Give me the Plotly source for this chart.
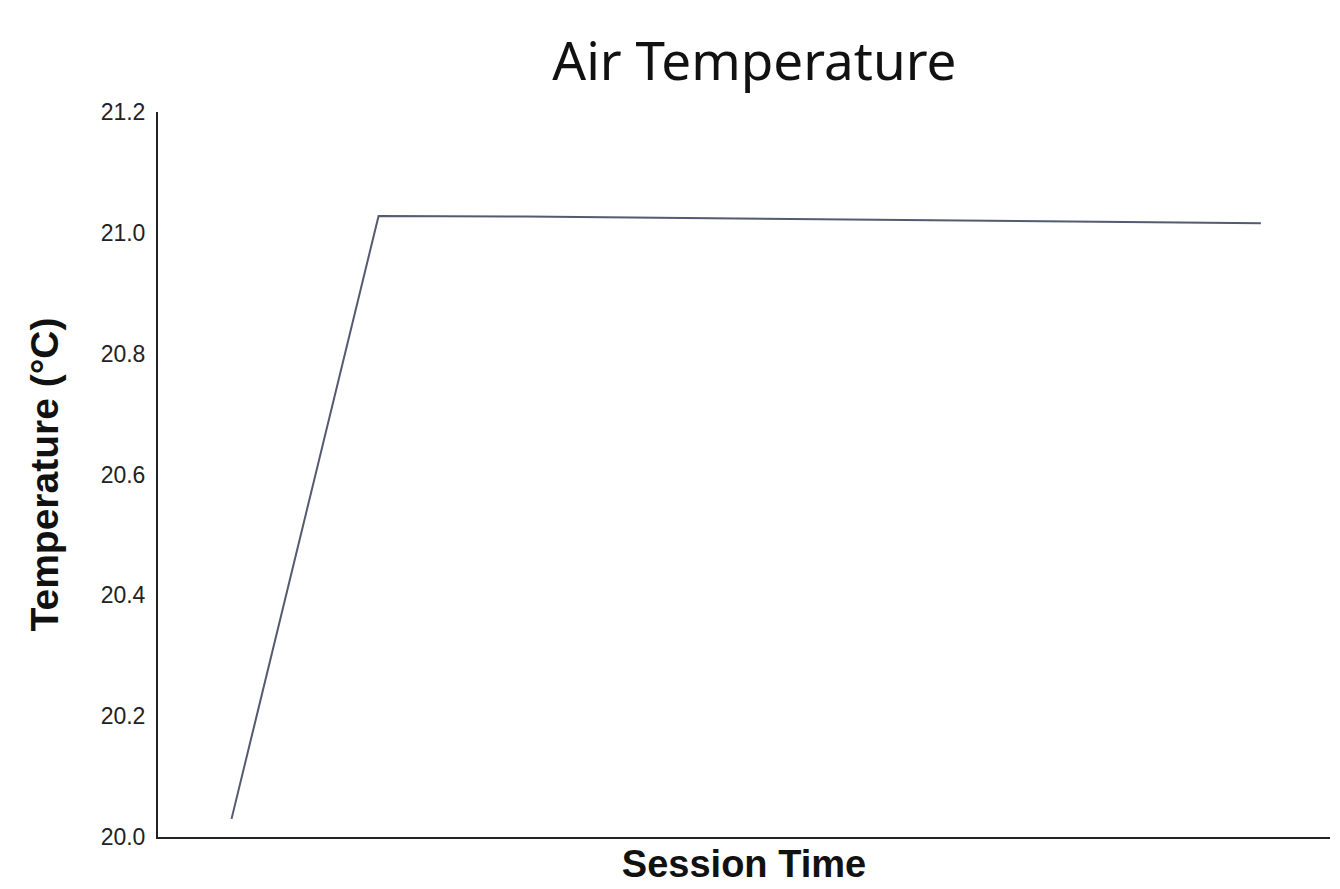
import plotly.graph_objects as go

session_time = [1, 2, 3, 4, 5, 6, 7, 8]
air_temp = [20.03, 21.028, 21.027, 21.025, 21.023, 21.021, 21.018, 21.016]
y_ticks = [20.0, 20.2, 20.4, 20.6, 20.8, 21.0, 21.2]

fig = go.Figure()
fig.add_trace(go.Scatter(
    x=session_time, y=air_temp, mode="lines",
    line=dict(color="#545a70", width=2),
    showlegend=False,
))

fig.update_layout(
    width=1340, height=889,
    paper_bgcolor="white", plot_bgcolor="white",
    margin=dict(l=150, r=18, t=104, b=60),
    title=dict(text="Air Temperature", x=0.557, xanchor="center", y=0.94, yanchor="middle",
               font=dict(family="Noto Sans, sans-serif", size=53, color="#111")),
    xaxis=dict(range=[0.5, 8.47], showticklabels=False, ticks="", showgrid=False, zeroline=False,
               showline=True, linecolor="#222", linewidth=2,
               title=dict(text="<b>Session Time</b>", standoff=12,
                          font=dict(family="Liberation Sans, Arial", size=38, color="#111"))),
    yaxis=dict(range=[20.0, 21.2], tickvals=y_ticks, ticktext=[f"{v:.1f}" for v in y_ticks],
               showgrid=False, zeroline=False, ticks="", showline=True, linecolor="#222", linewidth=2,
               tickfont=dict(family="Liberation Sans, Arial", size=23, color="#222"),
               ticklabelstandoff=6,
               title=dict(text="<b>Temperature (°C)</b>", standoff=30,
                          font=dict(family="Liberation Sans, Arial", size=39, color="#111"))),
)

fig.write_html("out.html")
